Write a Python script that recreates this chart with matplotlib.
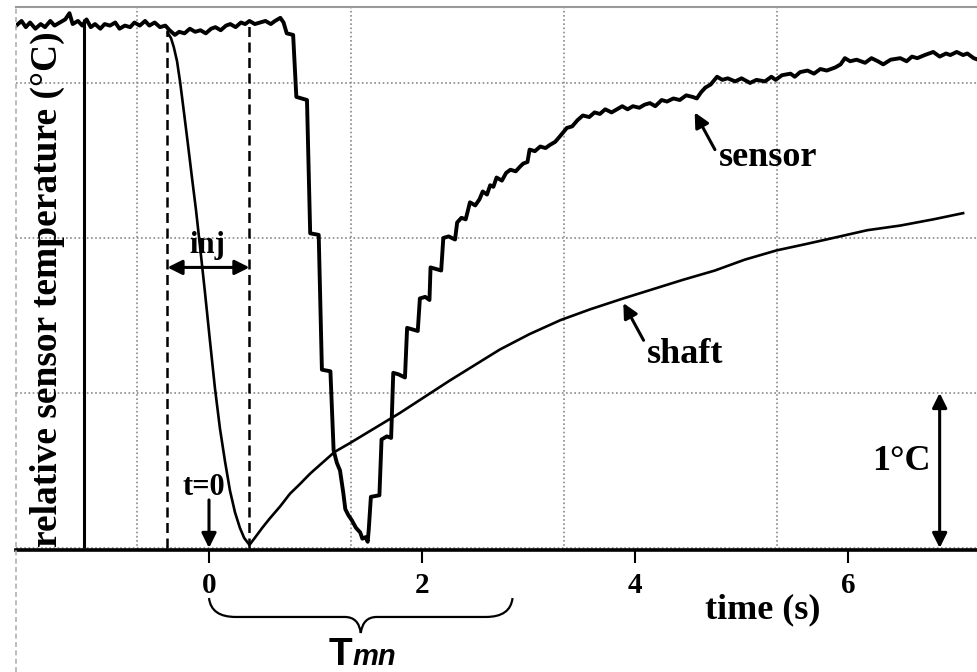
import matplotlib
matplotlib.use("Agg")
import matplotlib.pyplot as plt
from matplotlib.lines import Line2D
from matplotlib.path import Path
from matplotlib.patches import PathPatch

# -----------------------------
# Data
# -----------------------------
sensor_t = [-1.81, -1.76, -1.72, -1.68, -1.63, -1.58, -1.54, -1.49, -1.45, -1.40,
            -1.35, -1.31, -1.28, -1.23, -1.19, -1.15, -1.11, -1.07, -1.02, -0.98,
            -0.93, -0.88, -0.84, -0.79, -0.74, -0.70, -0.65, -0.60, -0.56, -0.51,
            -0.46, -0.41, -0.37, -0.32, -0.28, -0.23, -0.18, -0.13, -0.08, -0.03,
            0.02, 0.06, 0.11, 0.16, 0.20, 0.25, 0.30, 0.34, 0.38, 0.43,
            0.48, 0.53, 0.58, 0.62, 0.67, 0.70, 0.73, 0.79, 0.82, 0.92,
            0.95, 1.03, 1.06, 1.14, 1.17, 1.20, 1.23, 1.26, 1.28, 1.31,
            1.34, 1.38, 1.42, 1.44, 1.47, 1.49, 1.50, 1.52, 1.60, 1.62,
            1.67, 1.71, 1.73, 1.78, 1.84, 1.86, 1.91, 1.96, 1.98, 2.03,
            2.07, 2.08, 2.13, 2.18, 2.20, 2.25, 2.31, 2.33, 2.37, 2.41,
            2.45, 2.50, 2.54, 2.57, 2.61, 2.64, 2.67, 2.70, 2.75, 2.79,
            2.83, 2.88, 2.92, 2.95, 2.99, 3.01, 3.06, 3.11, 3.16, 3.20,
            3.25, 3.30, 3.36, 3.41, 3.46, 3.51, 3.57, 3.62, 3.67, 3.72,
            3.78, 3.83, 3.88, 3.93, 3.98, 4.04, 4.09, 4.14, 4.19, 4.25,
            4.30, 4.36, 4.42, 4.48, 4.54, 4.58, 4.62, 4.66, 4.71, 4.77,
            4.82, 4.87, 4.94, 5.00, 5.08, 5.14, 5.22, 5.28, 5.32, 5.38,
            5.46, 5.50, 5.55, 5.62, 5.68, 5.74, 5.80, 5.88, 5.93, 5.97,
            6.02, 6.08, 6.16, 6.22, 6.28, 6.33, 6.40, 6.49, 6.55, 6.60,
            6.65, 6.72, 6.80, 6.86, 6.92, 6.96, 7.02, 7.08, 7.12, 7.18, 7.22]
sensor_T = [3.37, 3.40, 3.36, 3.39, 3.35, 3.38, 3.36, 3.40, 3.37, 3.39,
            3.41, 3.45, 3.38, 3.40, 3.37, 3.41, 3.36, 3.38, 3.35, 3.38,
            3.37, 3.39, 3.35, 3.37, 3.36, 3.39, 3.37, 3.40, 3.37, 3.39,
            3.36, 3.37, 3.34, 3.31, 3.33, 3.32, 3.35, 3.33, 3.34, 3.32,
            3.35, 3.36, 3.34, 3.37, 3.38, 3.36, 3.39, 3.38, 3.40, 3.38,
            3.39, 3.40, 3.38, 3.40, 3.42, 3.39, 3.32, 3.31, 2.91, 2.89,
            2.03, 2.02, 1.15, 1.14, 0.63, 0.55, 0.50, 0.36, 0.25, 0.21,
            0.18, 0.13, 0.10, 0.06, 0.07, 0.04, 0.12, 0.33, 0.34, 0.70,
            0.72, 0.71, 1.13, 1.12, 1.10, 1.42, 1.41, 1.40, 1.61, 1.62,
            1.60, 1.81, 1.80, 1.79, 2.00, 2.01, 1.99, 2.10, 2.13, 2.12,
            2.23, 2.21, 2.25, 2.30, 2.28, 2.34, 2.33, 2.39, 2.37, 2.42,
            2.44, 2.43, 2.46, 2.48, 2.49, 2.57, 2.56, 2.59, 2.58, 2.60,
            2.62, 2.66, 2.71, 2.72, 2.76, 2.79, 2.78, 2.81, 2.80, 2.83,
            2.81, 2.83, 2.85, 2.83, 2.85, 2.84, 2.86, 2.87, 2.85, 2.89,
            2.88, 2.90, 2.89, 2.92, 2.91, 2.90, 2.94, 2.97, 2.99, 3.04,
            3.02, 3.03, 3.01, 3.03, 3.00, 3.02, 3.01, 3.04, 3.02, 3.05,
            3.06, 3.04, 3.07, 3.08, 3.06, 3.09, 3.08, 3.10, 3.12, 3.16,
            3.14, 3.15, 3.13, 3.16, 3.14, 3.12, 3.15, 3.16, 3.14, 3.17,
            3.16, 3.18, 3.20, 3.17, 3.19, 3.18, 3.20, 3.18, 3.19, 3.16, 3.15]

shaft_t = [-0.385, -0.357, -0.33, -0.30, -0.27, -0.235, -0.197, -0.16, -0.122, -0.085,
           -0.038, 0.01, 0.056, 0.103, 0.15, 0.197, 0.244, 0.29, 0.33, 0.38,
           0.43, 0.50, 0.57, 0.67, 0.76, 0.85, 0.95, 1.04, 1.18, 1.324,
           1.79, 2.26, 2.73, 3.01, 3.30, 3.58, 3.89, 4.17, 4.45, 4.75,
           5.03, 5.33, 5.60, 5.86, 6.18, 6.49, 6.80, 7.08]
shaft_T = [3.32, 3.29, 3.23, 3.14, 3.00, 2.81, 2.60, 2.39, 2.18, 1.95,
           1.65, 1.33, 1.03, 0.77, 0.56, 0.37, 0.23, 0.13, 0.065, 0.02,
           0.065, 0.13, 0.19, 0.27, 0.35, 0.41, 0.48, 0.535, 0.62, 0.677,
           0.87, 1.08, 1.28, 1.38, 1.47, 1.54, 1.61, 1.67, 1.73, 1.79,
           1.86, 1.92, 1.96, 2.00, 2.05, 2.08, 2.12, 2.16]

start_t = -1.17            # solid vertical marker
inj_t = [-0.39, 0.38]      # injection window (dashed)
tmn_end = 2.85             # end of the T_mn brace
xticks = [0, 2, 4, 6]
ygrid = [0, 1, 2, 3]
xgrid = [-0.68, 1.33, 3.33, 5.33]

plt.rcParams["font.family"] = ["Liberation Serif", "DejaVu Serif"]
plt.rcParams["font.weight"] = "bold"

# -----------------------------
# Figure
# -----------------------------
fig = plt.figure(figsize=(9.78, 6.72), dpi=100)
ax = fig.add_axes([16 / 978, 1 - 550 / 672, 1 - 16 / 978, (550 - 7) / 672])
ax.set_xlim(-1.812, 7.22)
ax.set_ylim(-0.013, 3.49)

for g in ygrid:
    ax.axhline(g, color="#8a8a8a", lw=1.2, ls=(0, (1, 1.5)), zorder=1)
for g in xgrid:
    ax.axvline(g, color="#8a8a8a", lw=1.2, ls=(0, (1, 1.5)), zorder=1)

ax.plot(sensor_t, sensor_T, color="black", lw=2.8, zorder=3)
ax.plot(shaft_t, shaft_T, color="black", lw=1.9, zorder=3)
ax.vlines(start_t, 0, 3.41, color="black", lw=2.2, zorder=3)
ax.vlines(inj_t, 0, [3.34, 3.39], color="black", lw=1.8, ls=(0, (4, 2.2)), zorder=3)

# spines / ticks
ax.spines["left"].set_visible(False)
ax.spines["right"].set_visible(False)
ax.spines["top"].set_color("#9a9a9a")
ax.spines["top"].set_linewidth(1.5)
ax.spines["bottom"].set_linewidth(2.6)
ax.set_yticks([])
ax.set_xticks(xticks)
ax.set_xticklabels([str(v) for v in xticks], fontsize=21, fontweight="bold")
ax.tick_params(axis="x", direction="out", length=9, width=1.5, pad=7)

fig.add_artist(Line2D([16 / 978, 16 / 978], [0, 1 - 7 / 672], transform=fig.transFigure,
                      color="#b0b0b0", lw=1.2, ls=(0, (3, 2))))

fig.text(47 / 978, 1 - 289 / 672, "relative sensor temperature (°C)", rotation=90,
         ha="center", va="center", fontsize=27, fontweight="bold")

# -----------------------------
# Annotations
# -----------------------------
arrow = dict(arrowstyle="-|>", color="black", lw=2.2, mutation_scale=22, shrinkA=0, shrinkB=0)
darrow = dict(arrowstyle="<|-|>", color="black", lw=2.2, mutation_scale=22, shrinkA=0, shrinkB=0)

ax.text(5.25, 2.52, "sensor", ha="center", va="center", fontsize=26, fontweight="bold")
ax.annotate("", xy=(4.56, 2.81), xytext=(4.75, 2.57), arrowprops=arrow)

ax.text(4.47, 1.245, "shaft", ha="center", va="center", fontsize=26, fontweight="bold")
ax.annotate("", xy=(3.89, 1.58), xytext=(4.08, 1.34), arrowprops=arrow)

ax.text(-0.02, 1.95, "inj", ha="center", va="center", fontsize=22, fontweight="bold")
ax.annotate("", xy=(inj_t[0], 1.81), xytext=(inj_t[1], 1.81), arrowprops=darrow)

ax.text(-0.05, 0.39, "t=0", ha="center", va="center", fontsize=22, fontweight="bold")
ax.annotate("", xy=(0, 0.0), xytext=(0, 0.31), arrowprops=arrow)

ax.text(6.50, 0.555, "1°C", ha="center", va="center", fontsize=26, fontweight="bold")
ax.annotate("", xy=(6.86, 0.0), xytext=(6.86, 1.0), arrowprops=darrow)

ax.text(5.20, -0.40, "time (s)", ha="center", va="center", fontsize=26,
        fontweight="bold", clip_on=False)

# brace under the time axis
mid = (0 + tmn_end) / 2 + 0.0
y0, y1, y2 = -0.323, -0.445, -0.548
verts = [(0, y0), (0.02, y1), (0.25, y1),
         (mid - 0.15, y1),
         (mid - 0.02, y1), (mid, y2),
         (mid + 0.02, y1), (mid + 0.15, y1),
         (tmn_end - 0.25, y1),
         (tmn_end - 0.02, y1), (tmn_end, y0)]
codes = [Path.MOVETO, Path.CURVE3, Path.CURVE3,
         Path.LINETO,
         Path.CURVE3, Path.CURVE3,
         Path.CURVE3, Path.CURVE3,
         Path.LINETO,
         Path.CURVE3, Path.CURVE3]
ax.add_patch(PathPatch(Path(verts, codes), fill=False, lw=1.6, color="black", clip_on=False))

ax.text(1.343, -0.755, "T", ha="right", va="baseline", fontsize=28, fontweight="bold",
        family="Liberation Sans", clip_on=False)
ax.text(1.343, -0.755, "mn", ha="left", va="baseline", fontsize=21, fontweight="bold",
        fontstyle="italic", family="Liberation Sans", clip_on=False)

fig.savefig("out.png", dpi=100)
